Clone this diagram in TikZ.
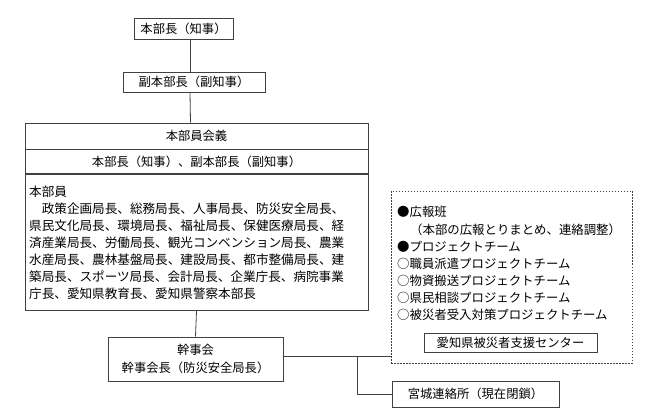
\documentclass[tikz,border=0pt]{standalone}
\usepackage{fontspec}
\setmainfont{Noto Sans CJK JP}
\usetikzlibrary{calc}
\begin{document}
\begin{tikzpicture}[x=1pt,y=-1pt,
  box/.style={draw=black!75,line width=0.8pt,rectangle,inner sep=0pt,font=\fontsize{12.3}{18}\selectfont},
  dbox/.style={draw=black!75,line width=0.8pt,dash pattern=on 1.5pt off 1.5pt,rectangle,inner sep=0pt},
  txt/.style={inner sep=0pt,anchor=west,font=\fontsize{12.6}{14}\selectfont},
  ltxt/.style={inner sep=0pt,anchor=west,font=\fontsize{12.4}{14}\selectfont},
  ln/.style={draw=black!75,line width=0.8pt}]
\useasboundingbox (0,0) rectangle (650,414);
% top boxes
\node[box,minimum width=99pt,minimum height=21pt] (b1) at (183.5,28.5) {本部長（知事）};
\node[box,minimum width=142pt,minimum height=20pt] (b2) at (194,82) {副本部長（副知事）};
% big box
\node[box,minimum width=343pt,minimum height=26pt] (t1) at (196.5,136) {本部員会義};
\node[box,minimum width=343pt,minimum height=24pt,anchor=north] (t2) at (t1.south) {本部長（知事）、副本部長（副知事）};
\node[box,minimum width=343pt,minimum height=136pt,anchor=north] (t3) at (t2.south) {};
\node[txt] (m0) at (29,192) {本部員};
\node[txt] (m1) at (29,209) {　政策企画局長、総務局長、人事局長、防災安全局長、};
\node[txt] (m2) at (29,226) {県民文化局長、環境局長、福祉局長、保健医療局長、経};
\node[txt] (m3) at (29,243) {済産業局長、労働局長、観光コンベンション局長、農業};
\node[txt] (m4) at (29,260) {水産局長、農林基盤局長、建設局長、都市整備局長、建};
\node[txt] (m5) at (29,277) {築局長、スポーツ局長、会計局長、企業庁長、病院事業};
\node[txt] (m6) at (29,294) {庁長、愛知県教育長、愛知県警察本部長};
% kanjikai
\node[box,minimum width=175pt,minimum height=44pt,align=center] (kj) at (195.5,359) {幹事会\\幹事会長（防災安全局長）};
% dashed box
\node[dbox,minimum width=241pt,minimum height=172pt] (db) at (511.5,277) {};
\node[ltxt] (d1) at (397,212) {●広報班};
\node[ltxt] (d2) at (410,229.5) {（本部の広報とりまとめ、連絡調整）};
\node[ltxt] (d3) at (397,247) {●プロジェクトチーム};
\node[ltxt] (d4) at (397,264) {○職員派遣プロジェクトチーム};
\node[ltxt] (d5) at (397,281) {○物資搬送プロジェクトチーム};
\node[ltxt] (d6) at (397,298) {○県民相談プロジェクトチーム};
\node[ltxt] (d7) at (397,315) {○被災者受入対策プロジェクトチーム};
\node[box,minimum width=173pt,minimum height=19pt] (sc) at (510.5,342.5) {愛知県被災者支援センター};
% miyagi
\node[box,minimum width=167pt,minimum height=26pt] (my) at (475.5,394) {宮城連絡所（現在閉鎖）};
% connectors
\draw[ln] ([xshift=6.5pt]b1.south) -- ([xshift=-4pt]b2.north);
\draw[ln] ([xshift=-4pt]b2.south) -- ([xshift=-6pt]t1.north);
\draw[ln] (t3.south) -- (kj.north);
\coordinate (kr) at ([yshift=3pt]kj.east);
\draw[ln] (kr) -- (kr -| db.west);
\coordinate (jn) at (357,356);
\draw[ln] (jn) |- (my.west);
\end{tikzpicture}
\end{document}
